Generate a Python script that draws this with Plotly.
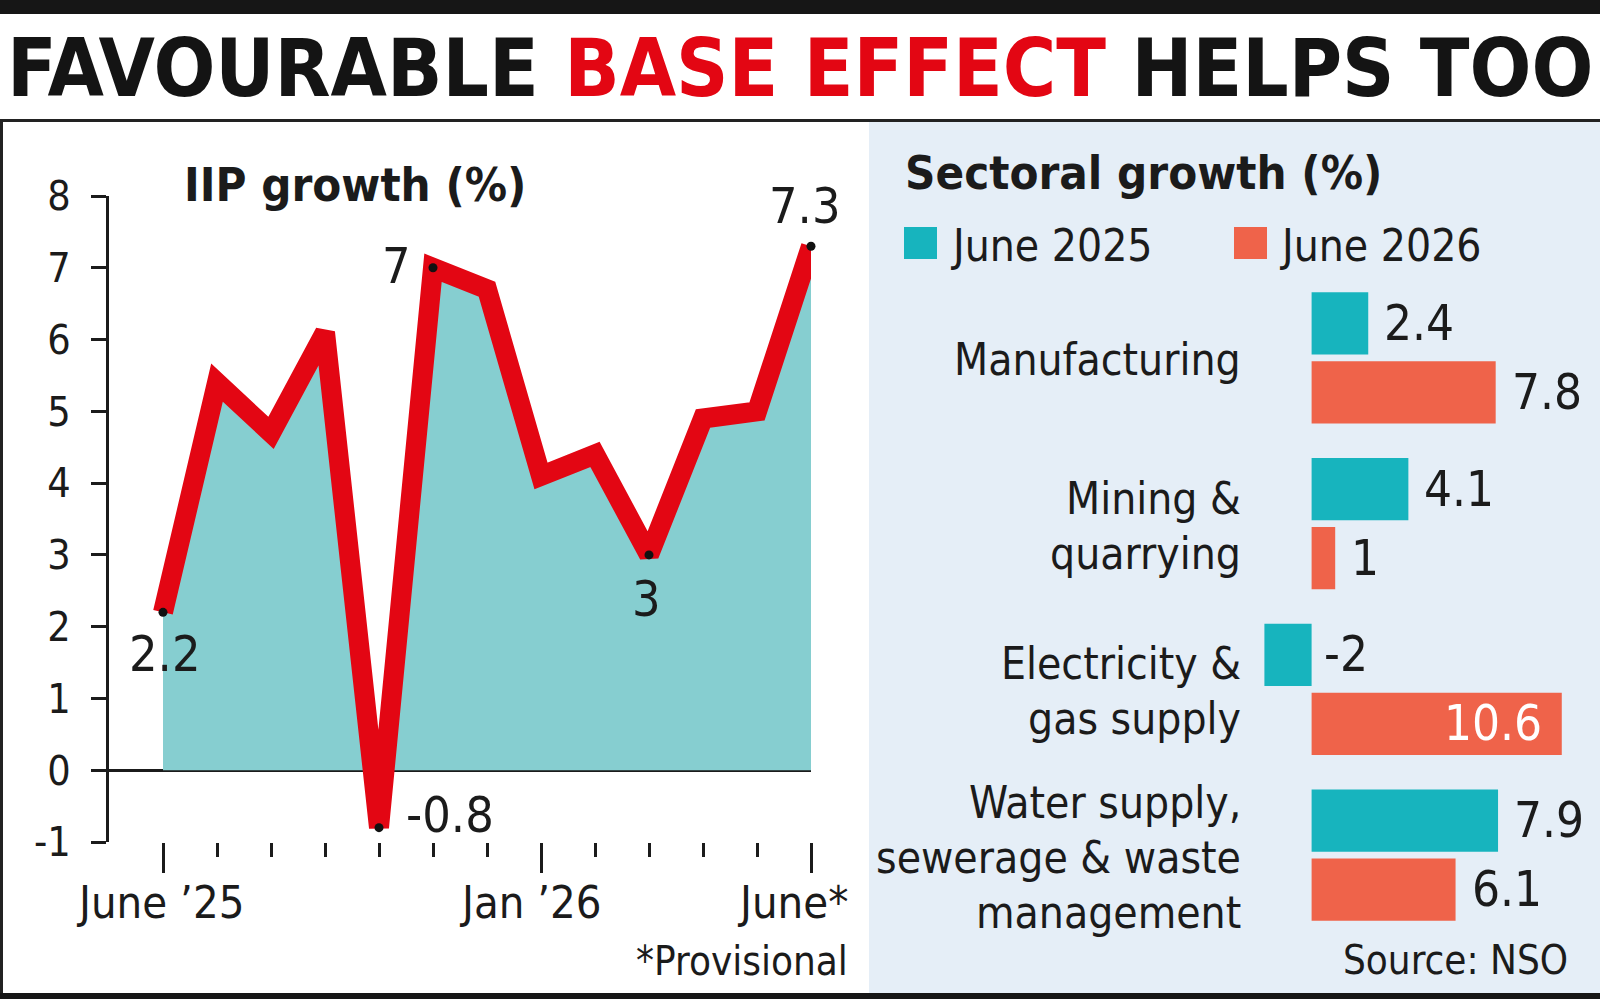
import plotly.graph_objects as go

W, H = 1600, 999

# ---------------- data ----------------
months = ["Jun 2025", "Jul 2025", "Aug 2025", "Sep 2025", "Oct 2025", "Nov 2025",
          "Dec 2025", "Jan 2026", "Feb 2026", "Mar 2026", "Apr 2026", "May 2026", "Jun 2026"]
iip_growth = [2.2, 5.4, 4.7, 6.1, -0.8, 7.0, 6.7, 4.1, 4.4, 3.0, 4.9, 5.0, 7.3]
labelled_points = [0, 4, 5, 9, 12]
x_tick_labels = {0: "June ’25", 7: "Jan ’26", 12: "June*"}

sectors = ["Manufacturing", "Mining &<br>quarrying", "Electricity &<br>gas supply",
           "Water supply,<br>sewerage & waste<br>management"]
series_names = ["June 2025", "June 2026"]
june_2025 = [2.4, 4.1, -2, 7.9]
june_2026 = [7.8, 1, 10.6, 6.1]
y_ticks = [-1, 0, 1, 2, 3, 4, 5, 6, 7, 8]

# ---------------- styles ----------------
FONT = "DejaVu Sans Condensed, Liberation Sans Narrow, sans-serif"
INK = "#1b1b1b"
RED = "#E30613"
FILL = "#86CED0"
TEAL = "#17B4BE"
ORANGE = "#EF634A"
PANEL = "#E5EEF7"


def px(x):
    return x / W


def py(y):
    return 1 - y / H


fig = go.Figure()

# IIP area + line
xi = list(range(len(months)))
fig.add_trace(go.Scatter(
    x=xi, y=iip_growth, mode="lines", fill="tozeroy", fillcolor=FILL,
    line=dict(color=RED, width=20), cliponaxis=False, hoverinfo="skip",
    xaxis="x", yaxis="y", showlegend=False))
fig.add_trace(go.Scatter(
    x=[xi[i] for i in labelled_points], y=[iip_growth[i] for i in labelled_points],
    mode="markers", marker=dict(color="#111111", size=9), cliponaxis=False,
    xaxis="x", yaxis="y", showlegend=False))

# sectoral bars
for name, vals, col in [(series_names[0], june_2025, TEAL), (series_names[1], june_2026, ORANGE)]:
    fig.add_trace(go.Bar(
        y=sectors, x=vals, orientation="h", name=name, marker=dict(color=col, line=dict(width=0)),
        xaxis="x2", yaxis="y2", showlegend=False))

# ---------------- layout ----------------
bar_top, bar_bot = 275, 938
pitch = (bar_bot - bar_top) / len(sectors)
bargap, bargroupgap = 0.166, 0.10
slot_offset = pitch * (1 - bargap) / 4

fig.update_layout(
    template="none",
    width=W, height=H, margin=dict(l=0, r=0, t=0, b=0, pad=0, autoexpand=False),
    autosize=False, showlegend=False,
    paper_bgcolor="white", plot_bgcolor="rgba(0,0,0,0)",
    font=dict(family=FONT, color=INK),
    barmode="group", bargap=bargap, bargroupgap=bargroupgap,
    xaxis=dict(domain=[px(109), px(811)], range=[-1, 12], showline=False, zeroline=False,
               showgrid=False, showticklabels=False, ticks="outside", automargin=False,
               tickmode="array", tickvals=list(x_tick_labels.keys()),
               ticklen=30, tickwidth=3, tickcolor=INK,
               minor=dict(tickmode="array",
                          tickvals=[i for i in xi if i not in x_tick_labels],
                          ticks="outside", ticklen=14, tickwidth=3, tickcolor=INK)),
    yaxis=dict(domain=[py(842), py(196)], range=[-1, 8], showline=True, linewidth=3,
               linecolor=INK, showgrid=False, zeroline=True, zerolinewidth=3,
               zerolinecolor=INK, ticks="outside", ticklen=15, tickwidth=3, tickcolor=INK,
               tickmode="array", tickvals=y_ticks, ticktext=[str(v) for v in y_ticks],
               ticklabelstandoff=12, automargin=False,
               tickfont=dict(size=41, color=INK, family=FONT)),
    xaxis2=dict(domain=[px(1240), 1], range=[-3.034, 12.22], visible=False, automargin=False),
    yaxis2=dict(domain=[py(bar_bot), py(bar_top)], type="category", automargin=False,
                categoryorder="array", categoryarray=sectors,
                range=[len(sectors) - 0.5, -0.5], visible=False),
)

shapes = [
    dict(type="rect", xref="paper", yref="paper", x0=px(869), x1=1, y0=py(993), y1=py(122),
         fillcolor=PANEL, line=dict(width=0), layer="below"),
    dict(type="rect", xref="paper", yref="paper", x0=0, x1=1, y0=py(14), y1=1,
         fillcolor="#161616", line=dict(width=0)),
    dict(type="rect", xref="paper", yref="paper", x0=0, x1=1, y0=py(122), y1=py(119),
         fillcolor="#222222", line=dict(width=0)),
    dict(type="rect", xref="paper", yref="paper", x0=0, x1=px(3), y0=py(993), y1=py(119),
         fillcolor="#222222", line=dict(width=0)),
    dict(type="rect", xref="paper", yref="paper", x0=0, x1=1, y0=0, y1=py(993),
         fillcolor="#161616", line=dict(width=0)),
    # legend squares
    dict(type="rect", xref="paper", yref="paper", x0=px(904), x1=px(937), y0=py(259), y1=py(227),
         fillcolor=TEAL, line=dict(width=0)),
    dict(type="rect", xref="paper", yref="paper", x0=px(1234), x1=px(1267), y0=py(259), y1=py(227),
         fillcolor=ORANGE, line=dict(width=0)),
]
fig.update_layout(shapes=shapes)

ann = []


def text(x, y, s, size, xanchor="left", color=INK, bold=False, **kw):
    ann.append(dict(x=px(x), y=py(y), xref="paper", yref="paper", text=(f"<b>{s}</b>" if bold else s),
                    showarrow=False, xanchor=xanchor, yanchor="middle",
                    font=dict(size=size, color=color, family=FONT), **kw))


# headline
text(800, 68, f"FAVOURABLE <span style='color:{RED}'>BASE EFFECT</span> HELPS TOO", 81,
     xanchor="center", color="#141414", bold=True)
# panel titles
text(182, 184, "IIP growth (%)", 47, bold=True)
text(903, 173, "Sectoral growth (%)", 47, bold=True)
# legend
text(948, 245, series_names[0], 44)
text(1277, 245, series_names[1], 44)
# footnotes
text(850, 961, "*Provisional", 40, xanchor="right")
text(1570, 960, "Source: NSO", 40, xanchor="right")

# x tick labels
x_label_shift = {0: -3, 7: -11, 12: -19}
for i, lab in x_tick_labels.items():
    ann.append(dict(x=xi[i], y=-1, xref="x", yref="y", text=lab, showarrow=False,
                    xanchor="center", yanchor="middle", xshift=x_label_shift[i], yshift=-60,
                    font=dict(size=45, color=INK, family=FONT)))

# point labels
pt_style = {0: ("center", 2, -42), 4: ("left", 25, 13), 5: ("right", -20, 2),
            9: ("center", -3, -44), 12: ("center", -6, 40)}
for i in labelled_points:
    xa, xs, ys = pt_style[i]
    v = iip_growth[i]
    ann.append(dict(x=xi[i], y=v, xref="x", yref="y", text=f"{v:g}", showarrow=False,
                    xanchor=xa, yanchor="middle", xshift=xs, yshift=ys,
                    font=dict(size=50, color=INK, family=FONT)))

# sector labels (one annotation per line)
line_gap = 55
for s in sectors:
    lines = s.split("<br>")
    n = len(lines)
    for k, ln in enumerate(lines):
        ann.append(dict(x=px(1243), y=s, xref="paper", yref="y2", text=ln, showarrow=False,
                        xanchor="right", yanchor="middle",
                        yshift=((n - 1) / 2 - k) * line_gap - 2,
                        font=dict(size=44, color=INK, family=FONT)))

# bar value labels
for vals, shift in [(june_2025, slot_offset), (june_2026, -slot_offset)]:
    for s, v in zip(sectors, vals):
        inside = v >= 10
        if inside:
            ann.append(dict(x=v, y=s, xref="x2", yref="y2", text=f"{v:g}", showarrow=False,
                            xanchor="right", yanchor="middle", xshift=-18, yshift=shift,
                            font=dict(size=49, color="white", family=FONT)))
        else:
            ann.append(dict(x=max(v, 0), y=s, xref="x2", yref="y2", text=f"{v:g}",
                            showarrow=False, xanchor="left", yanchor="middle",
                            xshift=14 if v > 0 else 10, yshift=shift,
                            font=dict(size=49, color=INK, family=FONT)))

fig.update_layout(annotations=ann)
fig.write_html("out.html")
